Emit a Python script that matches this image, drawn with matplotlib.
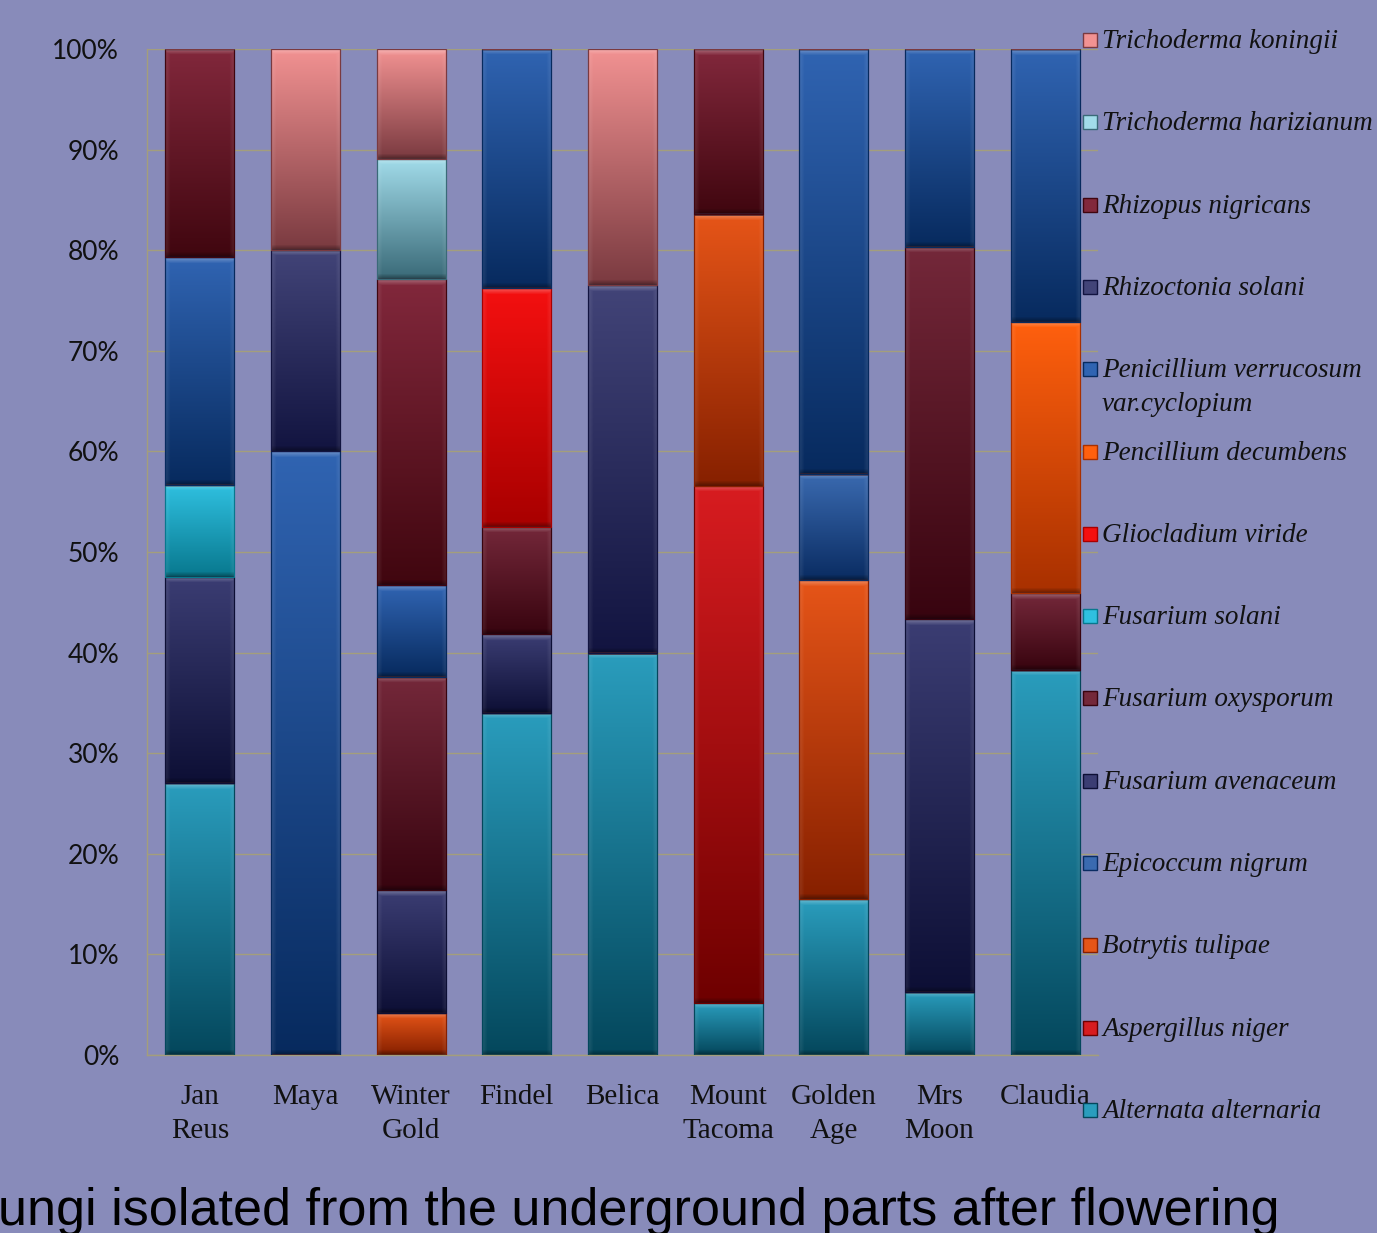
import numpy as np
import matplotlib
matplotlib.use("Agg")
import matplotlib.pyplot as plt
from matplotlib.colors import to_rgb
from matplotlib.patches import Rectangle

# ---- data: share (%) of each fungus species per tulip cultivar ----
cultivars = ["Jan\nReus", "Maya", "Winter\nGold", "Findel", "Belica",
             "Mount\nTacoma", "Golden\nAge", "Mrs\nMoon", "Claudia"]

species = ["Alternata alternaria", "Aspergillus niger", "Botrytis tulipae",
           "Epicoccum nigrum", "Fusarium avenaceum", "Fusarium oxysporum",
           "Fusarium solani", "Gliocladium viride", "Pencillium decumbens",
           "Penicillium verrucosum\nvar.cyclopium", "Rhizoctonia solani",
           "Rhizopus nigricans", "Trichoderma harizianum", "Trichoderma koningii"]

alternata    = [27.0, 0.0, 0.0, 34.0, 40.0, 5.2, 15.5, 6.3, 38.3]
aspergillus  = [0.0, 0.0, 0.0, 0.0, 0.0, 51.4, 0.0, 0.0, 0.0]
botrytis     = [0.0, 0.0, 4.2, 0.0, 0.0, 27.0, 31.7, 0.0, 0.0]
epicoccum    = [0.0, 0.0, 0.0, 0.0, 0.0, 0.0, 10.6, 0.0, 0.0]
f_avenaceum  = [20.5, 0.0, 12.2, 7.8, 0.0, 0.0, 0.0, 37.0, 0.0]
f_oxysporum  = [0.0, 0.0, 21.2, 10.7, 0.0, 0.0, 0.0, 37.0, 7.6]
f_solani     = [9.2, 0.0, 0.0, 0.0, 0.0, 0.0, 0.0, 0.0, 0.0]
gliocladium  = [0.0, 0.0, 0.0, 23.7, 0.0, 0.0, 0.0, 0.0, 0.0]
p_decumbens  = [0.0, 0.0, 0.0, 0.0, 0.0, 0.0, 0.0, 0.0, 27.0]
p_verrucosum = [22.6, 60.0, 9.1, 23.8, 0.0, 0.0, 42.2, 19.7, 27.1]
rhizoctonia  = [0.0, 20.0, 0.0, 0.0, 36.5, 0.0, 0.0, 0.0, 0.0]
rhizopus     = [20.7, 0.0, 30.4, 0.0, 0.0, 16.4, 0.0, 0.0, 0.0]
t_harizianum = [0.0, 0.0, 12.0, 0.0, 0.0, 0.0, 0.0, 0.0, 0.0]
t_koningii   = [0.0, 20.0, 10.9, 0.0, 23.5, 0.0, 0.0, 0.0, 0.0]

series = [alternata, aspergillus, botrytis, epicoccum, f_avenaceum, f_oxysporum,
          f_solani, gliocladium, p_decumbens, p_verrucosum, rhizoctonia,
          rhizopus, t_harizianum, t_koningii]

yticks = list(range(0, 101, 10))
ytick_labels = [f"{v}%" for v in yticks]

title = "ungi isolated from the underground parts after flowering"

# ---- styling ----
# (top colour, bottom colour) of each segment's vertical gradient
shades = [
    ("#2a9dbd", "#04475c"),   # Alternata alternaria
    ("#d81c20", "#6e0000"),   # Aspergillus niger
    ("#e65518", "#862000"),   # Botrytis tulipae
    ("#3a6ab0", "#0a2c62"),   # Epicoccum nigrum
    ("#3b3d73", "#0d0f35"),   # Fusarium avenaceum
    ("#74283a", "#38040f"),   # Fusarium oxysporum
    ("#2fc0e0", "#08788e"),   # Fusarium solani
    ("#f41010", "#a80000"),   # Gliocladium viride
    ("#ff600e", "#a83000"),   # Pencillium decumbens
    ("#3064b2", "#072a5e"),   # Penicillium verrucosum
    ("#424478", "#121440"),   # Rhizoctonia solani
    ("#82283c", "#40060f"),   # Rhizopus nigricans
    ("#a2dcea", "#3a6a78"),   # Trichoderma harizianum
    ("#f29292", "#7a3a40"),   # Trichoderma koningii
]

BG = "#888bba"
GRID = "#a39e7c"
W, H = 1377, 1233
DPI = 100

fig = plt.figure(figsize=(W / DPI, H / DPI), dpi=DPI, facecolor=BG)
ax = fig.add_axes([147 / W, 1 - 1055 / H, (1098 - 147) / W, (1055 - 49) / H])
ax.set_facecolor(BG)

x = np.arange(len(cultivars))
bar_w = 0.655
ax.set_xlim(-0.5, len(cultivars) - 0.5)
ax.set_ylim(0, 100)

fig.canvas.draw()
bb = ax.get_window_extent()
px_per_x = bb.width / (len(cultivars))
px_per_y = bb.height / 100.0


def segment_image(top, bottom, h_px, w_px):
    h = max(int(round(h_px)), 2)
    w = max(int(round(w_px)), 2)
    t = np.linspace(0, 1, h)[:, None]
    base = (1 - t) * np.array(to_rgb(top)) + t * np.array(to_rgb(bottom))
    img = np.repeat(base[:, None, :], w, axis=1)
    yy = np.arange(h)[:, None].astype(float)
    xx = np.arange(w)[None, :].astype(float)
    # bevel: bright rim along the top, soft side rims, dark rim at the bottom
    top_rim = np.clip(1 - yy / 6.0, 0, 1) * 0.30
    side = np.minimum(xx, w - 1 - xx)
    side_rim = np.clip(1 - side / 5.0, 0, 1) * 0.10
    light = np.maximum(top_rim, side_rim)
    light = np.broadcast_to(light, (h, w))
    dark = np.clip(1 - (h - 1 - yy) / 5.0, 0, 1) * 0.35
    dark = np.broadcast_to(dark, (h, w))
    img = img * (1 - light[..., None]) + light[..., None]
    img = img * (1 - dark[..., None])
    return np.clip(img, 0, 1)


bottoms = np.zeros(len(cultivars))
for vals, (c_top, c_bot) in zip(series, shades):
    vals = np.asarray(vals, dtype=float)
    bars = ax.bar(x, vals, bar_w, bottom=bottoms, color="none",
                  edgecolor=c_bot, linewidth=0.9, zorder=3)
    for rect, v in zip(bars, vals):
        if v <= 0:
            continue
        x0, y0 = rect.get_x(), rect.get_y()
        w, h = rect.get_width(), rect.get_height()
        img = segment_image(c_top, c_bot, h * px_per_y, w * px_per_x)
        ax.imshow(img, extent=(x0, x0 + w, y0, y0 + h), origin="upper",
                  aspect="auto", interpolation="bilinear", zorder=2)
    bottoms += vals

ax.set_xlim(-0.5, len(cultivars) - 0.5)
ax.set_ylim(0, 100)

# grid and axes
ax.set_yticks(yticks)
ax.set_yticklabels(ytick_labels, fontsize=19, family="Lato", color="#111111")
ax.yaxis.grid(True, color=GRID, linewidth=1.0, zorder=0)
ax.set_axisbelow(True)
ax.tick_params(axis="y", length=0, pad=20)
ax.set_xticks(x)
ax.set_xticklabels(cultivars, fontsize=21, family="Liberation Serif",
                   color="#111111", linespacing=1.38)
ax.tick_params(axis="x", length=0, pad=21)
for s in ("top", "right"):
    ax.spines[s].set_visible(False)
for s in ("left", "bottom"):
    ax.spines[s].set_color(GRID)
    ax.spines[s].set_linewidth(1.0)

# legend on the right, listed from the top series down
step = 82.3
for i, (name, (c_top, c_bot)) in enumerate(zip(species[::-1], shades[::-1])):
    yc = 40 + i * step
    sq = Rectangle((1083 / W, 1 - (yc + 7) / H), 14 / W, 14 / H,
                   transform=fig.transFigure, facecolor=c_top,
                   edgecolor=c_bot, linewidth=1.0)
    fig.patches.append(sq)
    for j, line in enumerate(name.split("\n")):
        fig.text(1102 / W, 1 - (yc + 8 + j * 34) / H, line, fontsize=19.5,
                 family="Liberation Serif", style="italic", color="#111111",
                 va="baseline", ha="left")

fig.text(-2 / W, 1 - 1225 / H, title, fontsize=37.5, family="Liberation Sans",
         color="#000000", va="baseline", ha="left")

fig.savefig("out.png", dpi=DPI, facecolor=BG)
